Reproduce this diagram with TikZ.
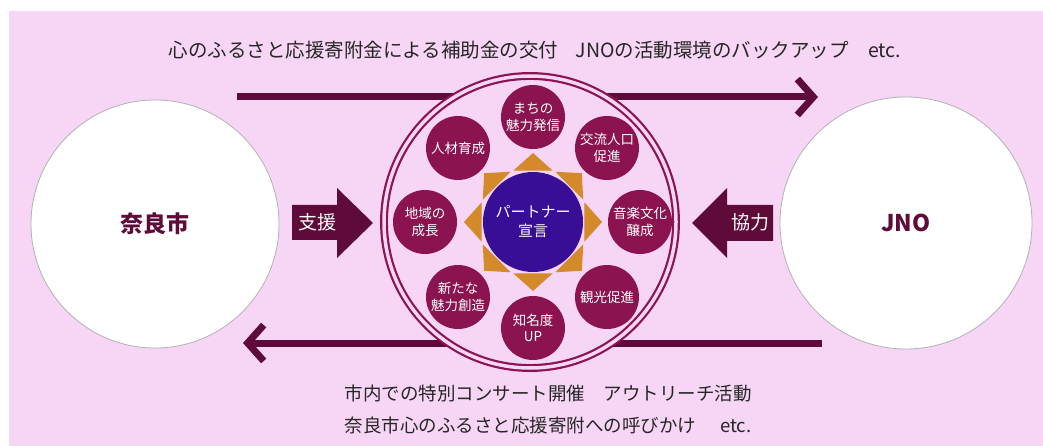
\documentclass[tikz,border=0pt]{standalone}
\usepackage{fontspec}
\setmainfont{Noto Sans CJK JP}
\usepackage{xcolor}
\usetikzlibrary{arrows.meta, positioning}

\definecolor{bgpink}{RGB}{247,213,245}
\definecolor{petalred}{RGB}{139,20,80}
\definecolor{darkwine}{RGB}{94,11,58}
\definecolor{corepurple}{RGB}{56,14,150}
\definecolor{starorange}{RGB}{212,137,42}

\tikzset{
    petal/.style={circle, fill=petalred, text=white, minimum size=64pt, inner sep=0pt,
        align=center, font=\fontsize{13.5}{16.5}\selectfont},
    party/.style={circle, draw=gray!60, line width=0.8pt, fill=white, minimum size=248pt,
        text=darkwine, font=\fontsize{23}{28}\selectfont\bfseries},
    flow/.style={draw=darkwine, line width=7pt, -{Straight Barb[length=16pt,width=36pt]}},
    caption/.style={text=black!85, align=center, font=\fontsize{18.5}{32}\selectfont},
    tag/.style={text=white, font=\fontsize{19}{22}\selectfont}
}

\begin{document}
\begin{tikzpicture}[x=1pt, y=-1pt]
    \useasboundingbox (0,0) rectangle (1043,446);
    \fill[bgpink] (9,11) rectangle (1043,446);

    % arrows behind the ring
    \coordinate (topfrom) at (237,97);
    \coordinate (topto) at (818,97);
    \coordinate (botfrom) at (822,343);
    \coordinate (botto) at (243,343);
    \draw[flow] (topfrom) -- (topto);
    \draw[flow] (botfrom) -- (botto);

    \node (ring) [circle, minimum size=292pt, draw=petalred, line width=2.2pt,
        double=bgpink, double distance=3.5pt, fill=bgpink] at (530,222) {};

    \node (machi) [petal] at (533,117) {まちの\\魅力発信};
    \node (koryu) [petal] at (607,148) {交流人口\\促進};
    \node (ongaku) [petal] at (640,222) {音楽文化\\醸成};
    \node (kanko) [petal] at (607,297) {観光促進};
    \node (chimei) [petal] at (533,328) {知名度\\UP};
    \node (arata) [petal] at (458,297) {新たな\\魅力創造};
    \node (chiiki) [petal] at (425,222) {地域の\\成長};
    \node (jinzai) [petal] at (458,148) {人材育成};

    \node (sengen) [circle, fill=corepurple, minimum size=100pt, inner sep=0pt, text=white,
        align=center, font=\fontsize{15}{19}\selectfont] at (533,222) {パートナー\\宣言};
    \begin{scope}[shift={(sengen.center)}]
        \foreach \a in {0,45,...,315}
            \fill[starorange] (\a:69) -- (\a+21:55) -- (\a-21:55) -- cycle;
    \end{scope}

    % block arrows
    \fill[darkwine] (292,205) -- (337,205) -- (337,188) -- (373,223) -- (337,258)
        -- (337,240) -- (292,240) -- cycle;
    \node (shien) [tag] at (317,222) {支援};
    \fill[darkwine] (773,205) -- (727,205) -- (727,188) -- (692,223) -- (727,258)
        -- (727,241) -- (773,241) -- cycle;
    \node (kyoryoku) [tag] at (750,222) {協力};

    \node (nara) [party] at (155,224) {奈良市};
    \node (jno) [party, minimum size=252pt] at (906,223) {JNO};

    \node (support) [caption, font=\fontsize{19.5}{32}\selectfont] at (535,50)
        {心のふるさと応援寄附金による補助金の交付\hspace{0.9em}JNOの活動環境のバックアップ\hspace{1em}etc.};
    \node (returns) [caption] at (548,409)
        {市内での特別コンサート開催\hspace{1em}アウトリーチ活動\\
         奈良市心のふるさと応援寄附への呼びかけ\hspace{1.3em}etc.};
\end{tikzpicture}
\end{document}
